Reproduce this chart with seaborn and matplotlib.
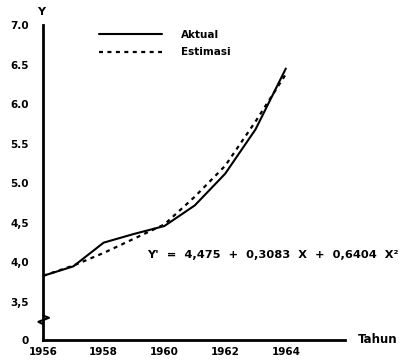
import pandas as pd
import seaborn as sns
import matplotlib.pyplot as plt

# data
tahun = [1956, 1957, 1958, 1959, 1960, 1961, 1962, 1963, 1964]
aktual = [3.83, 3.95, 4.25, 4.36, 4.46, 4.72, 5.12, 5.68, 6.45]
estimasi = [3.83, 3.96, 4.12, 4.30, 4.48, 4.83, 5.22, 5.78, 6.38]

ytick_vals = [3.02, 3.5, 4.0, 4.5, 5.0, 5.5, 6.0, 6.5, 7.0]
ytick_labels = ['0', '3,5', '4,0', '4,5', '5.0', '5.5', '6.0', '6.5', '7.0']
xtick_labels = [1956, 1958, 1960, 1962, 1964]

df = pd.DataFrame({'Tahun': tahun, 'Aktual': aktual, 'Estimasi': estimasi})

sns.set_style('white')
plt.rcParams['font.family'] = ['DejaVu Sans']
plt.rcParams['text.color'] = 'black'

fig = plt.figure(figsize=(4.05, 3.6), dpi=100)
ax = fig.add_axes([0.106, 0.0556, 0.746, 0.875])

sns.lineplot(x='Tahun', y='Aktual', data=df, ax=ax, color='black', linewidth=1.5, label='Aktual')
sns.lineplot(x='Tahun', y='Estimasi', data=df, ax=ax, color='black', linewidth=1.6,
             linestyle=(0, (1.8, 2)), label='Estimasi')

ax.set_xlim(1956, 1965.95)
ax.set_ylim(3.02, 7.0)
ax.set_xticks(range(1956, 1966))
ax.set_xticklabels([str(t) if t in xtick_labels else '' for t in range(1956, 1966)],
                   fontsize=7.5, fontweight='bold')
ax.set_yticks(ytick_vals)
ax.set_yticklabels(ytick_labels, fontsize=7.5, fontweight='bold')
ax.tick_params(axis='both', direction='in', length=4, width=1.5, colors='black', pad=5)
ax.tick_params(axis='y', pad=10)
ax.set_xlabel('')
ax.set_ylabel('')

for s in ['top', 'right']:
    ax.spines[s].set_visible(False)
for s in ['left', 'bottom']:
    ax.spines[s].set_linewidth(2)
    ax.spines[s].set_color('black')

# axis break mark on the y axis
tr = ax.get_yaxis_transform()
ax.plot([0, 0.02, -0.015, 0], [3.33, 3.3, 3.25, 3.22], transform=tr, color='black',
        linewidth=1.5, clip_on=False)

ax.text(-0.005, 7.1, 'Y', transform=tr, fontsize=8, fontweight='bold', ha='center', va='bottom')
ax.text(1.043, 0.0, 'Tahun', transform=ax.transAxes, fontsize=8.5, fontweight='bold',
        ha='left', va='center')
ax.text(0.345, 0.27, "Y'  =  4,475  +  0,3083  X  +  0,6404  X\u00b2", transform=ax.transAxes,
        fontsize=8.2, fontweight='bold', ha='left', va='center')

leg = ax.legend(loc='upper left', bbox_to_anchor=(0.155, 1.015), frameon=False,
                handlelength=6.0, handletextpad=1.9,
                prop={'weight': 'bold', 'size': 7.5}, labelspacing=0.75)

plt.savefig('out.png', dpi=100)
